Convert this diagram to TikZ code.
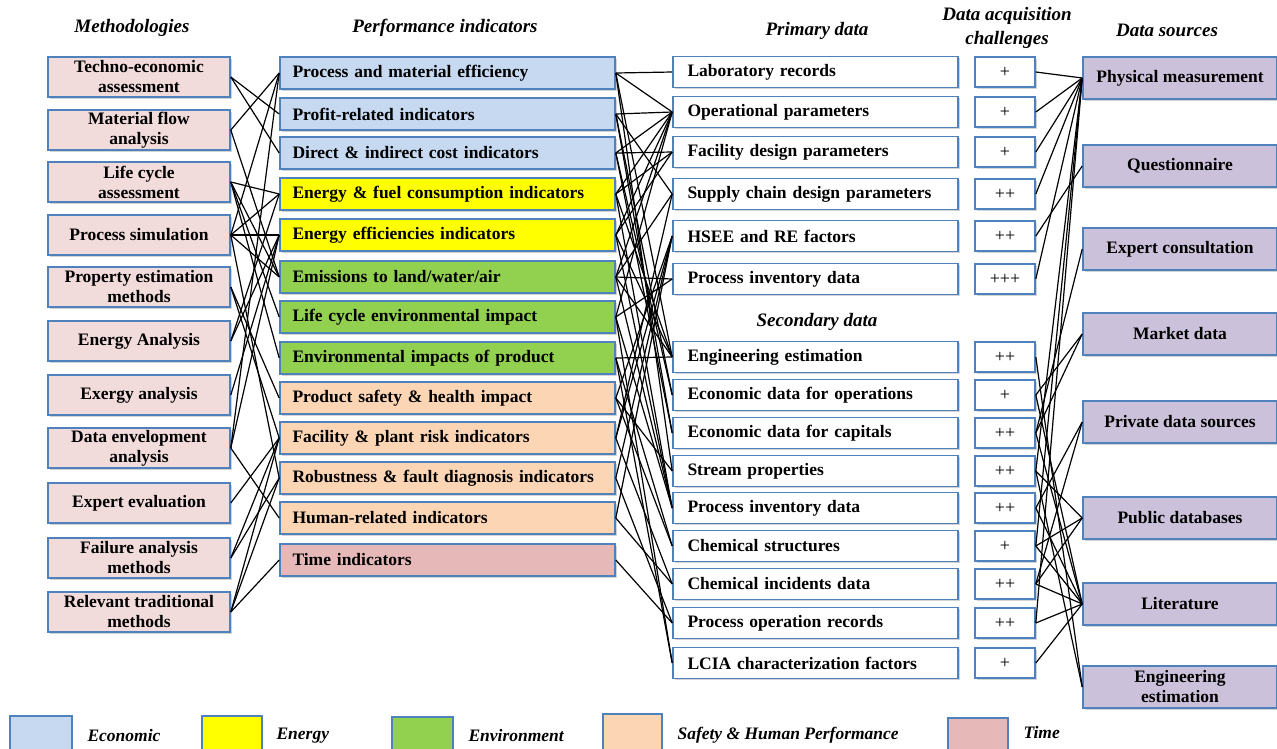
\documentclass[tikz,border=0pt]{standalone}
\usepackage{fontspec}
\setmainfont{Liberation Serif}
\usetikzlibrary{shadows}
\definecolor{bordblue}{HTML}{4F81BD}
\definecolor{methfill}{HTML}{F2DCDB}
\definecolor{econ}{HTML}{C6D9F1}
\definecolor{energy}{HTML}{FFFF00}
\definecolor{envir}{HTML}{92D050}
\definecolor{safety}{HTML}{FCD5B5}
\definecolor{timec}{HTML}{E6B9B8}
\definecolor{srcfill}{HTML}{CCC1DA}
\begin{document}
\begin{tikzpicture}[x=1pt,y=-1pt,
  box/.style={draw=bordblue, line width=1.6pt, inner sep=0pt, drop shadow={shadow xshift=1.8pt,shadow yshift=-1.8pt,opacity=0.35}},
  tf/.style={font=\fontsize{17.5}{20}\selectfont\bfseries},
  meth/.style={box,tf,fill=methfill,minimum width=182pt,minimum height=40pt,align=center},
  ind/.style={box,tf,minimum width=335pt,minimum height=32pt,text width=310pt,align=left},
  dat/.style={box,tf,fill=white,minimum width=285pt,minimum height=31pt,text width=256pt,align=left},
  chal/.style={box,fill=white,minimum width=60pt,minimum height=30pt,font=\fontsize{18}{20}\selectfont},
  src/.style={box,tf,fill=srcfill,minimum width=194pt,minimum height=42pt,align=center},
  hdr/.style={font=\fontsize{19}{22}\selectfont\bfseries\itshape,align=center},
  leg/.style={font=\fontsize{17.5}{20}\selectfont\bfseries\itshape, anchor=west},
  legbox/.style={draw=bordblue,line width=1.6pt},
  conn/.style={draw=black,line width=1.2pt}]
\useasboundingbox (0,0) rectangle (1277,748);

% headers
\node[hdr] (h1) at (132,28) {Methodologies};
\node[hdr] (h2) at (445,28) {Performance indicators};
\node[hdr] (h3) at (817,31) {Primary data};
\node[hdr] (h4) at (1007,16) {Data acquisition};
\node[hdr] (h4b) at (1007,40) {challenges};
\node[hdr] (h5) at (1167,30) {Data sources};
\node[hdr] (h6) at (817,322) {Secondary data};

% methodologies
\node[meth] (m1) at (139,77) {Techno-economic\\assessment};
\node[meth] (m2) at (139,130) {Material flow\\analysis};
\node[meth] (m3) at (139,182) {Life cycle\\assessment};
\node[meth] (m4) at (139,235) {Process simulation};
\node[meth] (m5) at (139,287) {Property estimation\\methods};
\node[meth] (m6) at (139,341) {Energy Analysis};
\node[meth] (m7) at (139,395) {Exergy analysis};
\node[meth] (m8) at (139,448) {Data envelopment\\analysis};
\node[meth] (m9) at (139,503) {Expert evaluation};
\node[meth] (m10) at (139,558) {Failure analysis\\methods};
\node[meth] (m11) at (139,612) {Relevant traditional\\methods};

% performance indicators
\node[ind,fill=econ] (p1) at (447.5,73) {Process and material efficiency};
\node[ind,fill=econ] (p2) at (447.5,114) {Profit-related indicators};
\node[ind,fill=econ] (p3) at (447.5,153) {Direct \& indirect cost indicators};
\node[ind,fill=energy] (p4) at (447.5,194) {Energy \& fuel consumption indicators};
\node[ind,fill=energy] (p5) at (447.5,235) {Energy efficiencies indicators};
\node[ind,fill=envir] (p6) at (447.5,277) {Emissions to land/water/air};
\node[ind,fill=envir] (p7) at (447.5,317) {Life cycle environmental impact};
\node[ind,fill=envir] (p8) at (447.5,358) {Environmental impacts of product};
\node[ind,fill=safety] (p9) at (447.5,398) {Product safety \& health impact};
\node[ind,fill=safety] (p10) at (447.5,438) {Facility \& plant risk indicators};
\node[ind,fill=safety] (p11) at (447.5,478) {Robustness \& fault diagnosis indicators};
\node[ind,fill=safety] (p12) at (447.5,518) {Human-related indicators};
\node[ind,fill=timec] (p13) at (447.5,560) {Time indicators};

% primary data
\node[dat] (d1) at (815.5,72) {Laboratory records};
\node[dat] (d2) at (815.5,112) {Operational parameters};
\node[dat] (d3) at (815.5,152) {Facility design parameters};
\node[dat] (d4) at (815.5,194) {Supply chain design parameters};
\node[dat] (d5) at (815.5,236) {HSEE and RE factors};
\node[dat] (d6) at (815.5,279) {Process inventory data};
% secondary data
\node[dat] (e1) at (815.5,357) {Engineering estimation};
\node[dat] (e2) at (815.5,395) {Economic data for operations};
\node[dat] (e3) at (815.5,433) {Economic data for capitals};
\node[dat] (e4) at (815.5,471) {Stream properties};
\node[dat] (e5) at (815.5,508) {Process inventory data};
\node[dat] (e6) at (815.5,546) {Chemical structures};
\node[dat] (e7) at (815.5,584) {Chemical incidents data};
\node[dat] (e8) at (815.5,623) {Process operation records};
\node[dat] (e9) at (815.5,663) {LCIA characterization factors};

% challenges
\node[chal] (c1) at (1005,72) {+};
\node[chal] (c2) at (1005,112) {+};
\node[chal] (c3) at (1005,152) {+};
\node[chal] (c4) at (1005,194) {++};
\node[chal] (c5) at (1005,236) {++};
\node[chal] (c6) at (1005,279) {+++};
\node[chal] (f1) at (1005,357) {++};
\node[chal] (f2) at (1005,395) {+};
\node[chal] (f3) at (1005,433) {++};
\node[chal] (f4) at (1005,471) {++};
\node[chal] (f5) at (1005,508) {++};
\node[chal] (f6) at (1005,546) {+};
\node[chal] (f7) at (1005,584) {++};
\node[chal] (f8) at (1005,623) {++};
\node[chal] (f9) at (1005,663) {+};

% data sources
\node[src] (s1) at (1180,78) {Physical measurement};
\node[src] (s2) at (1180,166) {Questionnaire};
\node[src] (s3) at (1180,249) {Expert consultation};
\node[src] (s4) at (1180,334) {Market data};
\node[src] (s5) at (1180,422) {Private data sources};
\node[src] (s6) at (1180,518) {Public databases};
\node[src] (s7) at (1180,604) {Literature};
\node[src] (s8) at (1180,687) {Engineering\\estimation};

% legend
\draw[legbox,fill=econ] (10,716) rectangle (72,752);
\node[leg] (l1) at (84,736) {Economic};
\draw[legbox,fill=energy] (202,716) rectangle (262,752);
\node[leg] (l2) at (273,736) {Energy};
\draw[legbox,fill=envir] (392,717) rectangle (453,752);
\node[leg] (l3) at (465,736) {Environment};
\draw[legbox,fill=safety] (603,714) rectangle (662,752);
\node[leg] (l4) at (674,735) {Safety \& Human Performance};
\draw[legbox,fill=timec] (948,718) rectangle (1008,752);
\node[leg] (l5) at (1020,733) {Time};

% methodologies -> indicators
\foreach \a/\b in {m1/p2,m1/p3,m2/p1,m2/p6,m3/p4,m3/p6,m3/p7,m3/p8,
  m4/p1,m4/p4,m4/p5,m4/p6,m4/p11,m5/p9,m5/p10,m6/p4,m6/p5,m7/p5,
  m8/p1,m8/p5,m8/p12,m9/p10,m10/p10,m10/p11,m11/p10,m11/p11,m11/p13}
  \draw[conn] (\a.east) -- (\b.west);

% indicators -> data
\foreach \a/\b in {p1/d1,p1/d2,p1/e1,p1/e4,p2/d2,p2/d4,p2/e2,p2/e3,
  p3/d3,p3/d2,p3/e2,p3/e3,p4/d2,p4/d3,p4/e1,p4/e5,p5/d2,p5/d3,p5/e1,p5/e5,
  p6/d6,p6/d2,p6/d4,p6/e1,p6/e5,p7/d6,p7/d2,p7/e5,p7/e9,p8/e1,p8/e6,p8/e9,
  p9/d5,p9/e4,p9/e6,p10/d5,p10/d4,p10/e7,p11/d5,p11/e8,p12/d5,p12/e7,p13/e8}
  \draw[conn] (\a.east) -- (\b.west);

% challenges -> sources
\foreach \a/\b in {c1/s1,c2/s1,c3/s1,c4/s1,c5/s2,c6/s1,
  f1/s8,f2/s4,f2/s7,f3/s3,f3/s4,f3/s7,f4/s1,f4/s6,f4/s8,f5/s5,f5/s7,
  f6/s1,f6/s7,f6/s6,f7/s6,f7/s7,f7/s5,f8/s1,f8/s7,f9/s7}
  \draw[conn] (\a.east) -- (\b.west);
\end{tikzpicture}
\end{document}
